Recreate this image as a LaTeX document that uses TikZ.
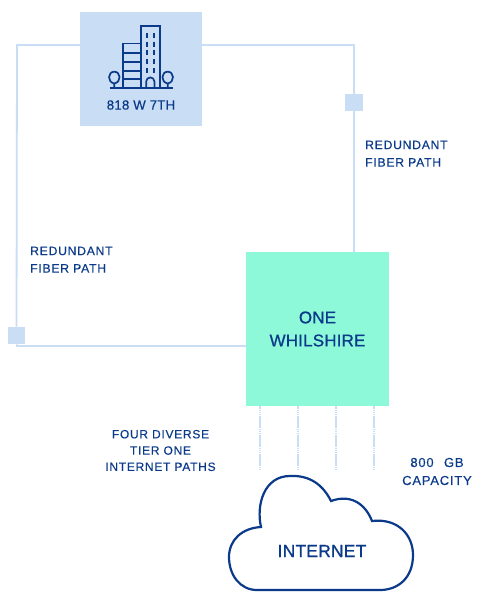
\documentclass[tikz,border=0pt]{standalone}
\usepackage{fontspec}
\setmainfont{Liberation Sans}
\newfontfamily\labelfont[LetterSpace=6,FakeBold=0.35]{Liberation Sans}
\newfontfamily\titlefont[LetterSpace=1.5,FakeBold=0.35]{Liberation Sans}
\newfontfamily\bigfont[LetterSpace=1,FakeBold=0.9]{Liberation Sans}
\usetikzlibrary{positioning}
\definecolor{fiberblue}{HTML}{C9DEF4}
\definecolor{inkblue}{HTML}{0B3A8A}
\definecolor{boxteal}{HTML}{8DF9D8}

\begin{document}
\begin{tikzpicture}[
      x=1pt, y=-1pt,
      fiber/.style={draw=fiberblue, line width=1.8pt},
      tap/.style={draw=fiberblue, line width=2.4pt, dash pattern=on 1.5pt off 0.4pt},
      icon/.style={draw=inkblue, line width=1.7pt},
      joint/.style={rectangle, fill=fiberblue, minimum size=17.5pt, inner sep=0pt},
      tag/.style={text=inkblue, font=\labelfont\fontsize{12.2}{17.5}\selectfont, inner sep=0pt}]

      \useasboundingbox (0,0) rectangle (483,600);

      % boxes
      \node[fill=fiberblue, minimum width=122pt, minimum height=114pt, inner sep=0pt] (site) at (141,69) {};
      \node[fill=boxteal, minimum width=143pt, minimum height=154pt, inner sep=0pt, align=center,
        text=inkblue, font=\bigfont\fontsize{17}{23}\selectfont] (one) at (317.5,329) {ONE\\WHILSHIRE};
      \node[joint] (jointR) at (354,102.5) {};
      \node[joint] (jointL) at (16.5,335.5) {};

      % fiber paths
      \coordinate (siteR) at (202,45);
      \coordinate (siteL) at (80,45);
      \coordinate (topR) at (354,45);
      \coordinate (oneT) at (354,252);
      \coordinate (topL) at (17,45);
      \coordinate (botL) at (17,346);
      \coordinate (oneL) at (246,346);
      \draw[fiber] (siteR) -- (topR) -- (jointR) -- (oneT);
      \draw[fiber] (siteL) -- (topL) -- (jointL) -- (botL) -- (oneL);

      % building icon
      \draw[icon] (140.7,87.5) -- (140.7,26) -- (160,26) -- (160,87.5);
      \draw[icon] (140.7,43.5) -- (122.7,43.5) -- (122.7,87.5);
      \foreach \y in {52.7,61.7,70.7,79}{ \draw[icon] (122.7,\y) -- (140.7,\y);}
      \foreach \x in {146.7,153.7}{ \foreach \y in {33,41.5,50,59,68}{ \draw[icon] (\x,\y) -- (\x,\y+5);}}
      \draw[icon] (146.2,87.5) -- (146.2,81.5) arc[start angle=180, end angle=360, radius=4.1] -- (154.4,87.5);
      \draw[icon] (110,87.7) -- (172.7,87.7);
      \foreach \x in {114.3,167.7}{
        \draw[icon] (\x,83.5) .. controls (\x-7.5,82) and (\x-6.5,71.7) .. (\x,71.7)
          .. controls (\x+6.5,71.7) and (\x+7.5,82) .. (\x,83.5) -- (\x,87.7);
      }
      \node[text=inkblue, inner sep=0pt, font=\titlefont\fontsize{13.3}{15}\selectfont] (siteTag) at (141,105) {818 W 7TH};

      % internet cloud
      \draw[draw=inkblue, line width=2.2pt, fill=white] (261,527)
        .. controls (256,505) and (264,476) .. (290,476)
        .. controls (310,475) and (323,485) .. (331,501)
        .. controls (350,494) and (365,503) .. (372,521)
        .. controls (398,518) and (413,535) .. (413,555)
        .. controls (413,578) and (398,590) .. (380,590)
        -- (257,590)
        .. controls (240,590) and (229,575) .. (229,557)
        .. controls (229,540) and (242,528) .. (261,527) -- cycle;
      \node[text=inkblue, inner sep=0pt, font=\bigfont\fontsize{17.5}{20}\selectfont] (cloud) at (322,551) {INTERNET};

      % internet paths
      \foreach \n/\x in {1/260,2/298,3/336,4/374}{
        \coordinate (up\n) at (\x,406);
        \coordinate (down\n) at (\x,470);
        \draw[tap] (up\n) -- (down\n);
      }

      % labels
      \node[tag, align=left, anchor=north west] (tagR) at (365,140.5) {REDUNDANT\\FIBER PATH};
      \node[tag, align=left, anchor=north west] (tagL) at (30,246.5) {REDUNDANT\\FIBER PATH};
      \node[tag, align=center, font=\labelfont\fontsize{12}{16.3}\selectfont] (tagPaths) at (160.5,450.5) {FOUR DIVERSE\\TIER ONE\\INTERNET PATHS};
      \node[tag, align=center, font=\labelfont\fontsize{13}{18}\selectfont] (tagCap) at (437,471.5) {800\hspace{6pt} GB\\CAPACITY};
    \end{tikzpicture}
\end{document}
